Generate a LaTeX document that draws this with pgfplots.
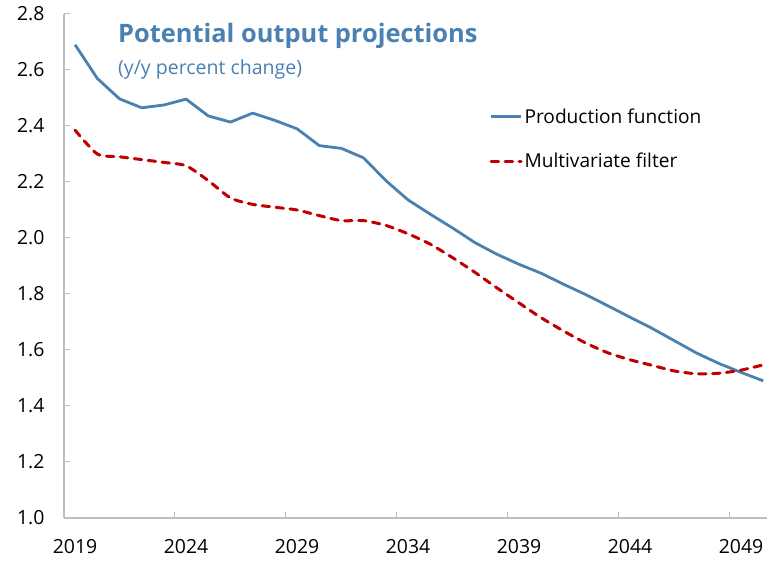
\documentclass[border=0pt]{standalone}
\usepackage{pgfplots}
\pgfplotsset{compat=1.18}
\usepackage{fontspec}
\setmainfont{Open Sans}
\definecolor{pfblue}{RGB}{74,128,178}
\definecolor{mvred}{RGB}{192,0,0}
\definecolor{axgray}{RGB}{190,190,190}
\pgfplotstableread{
year pf mv
2019 2.690 2.385
2020 2.570 2.300
2021 2.497 2.290
2022 2.465 2.280
2023 2.475 2.270
2024 2.496 2.258
2025 2.436 2.205
2026 2.414 2.143
2027 2.446 2.120
2028 2.420 2.110
2029 2.390 2.100
2030 2.330 2.080
2031 2.320 2.062
2032 2.286 2.062
2033 2.205 2.045
2034 2.136 2.015
2035 2.085 1.978
2036 2.036 1.930
2037 1.984 1.878
2038 1.942 1.822
2039 1.906 1.768
2040 1.874 1.715
2041 1.835 1.668
2042 1.798 1.625
2043 1.758 1.590
2044 1.717 1.565
2045 1.677 1.545
2046 1.633 1.525
2047 1.589 1.515
2048 1.552 1.517
2049 1.520 1.528
2050 1.490 1.547
}\datatable
\begin{document}
\begin{tikzpicture}[x=1bp,y=1bp]
\begin{axis}[
  at={(64bp,45bp)}, anchor=south west,
  scale only axis, width=703bp, height=504bp,
  xmin=2018.5, xmax=2050.17,
  ymin=1.0, ymax=2.8,
  axis x line=bottom, axis y line=left,
  axis line style={axgray, line width=1.2bp, -},
  xtick={2019,2024,...,2049},
  minor xtick={2023.5,2028.5,...,2048.5},
  major x tick style={draw=none},
  minor x tick style={axgray, line width=1bp},
  minor tick length=6bp,
  ytick={1.0,1.2,...,2.81},
  y tick style={axgray, line width=1bp},
  major tick length=6bp,
  tick align=inside,
  yticklabel style={/pgf/number format/fixed, /pgf/number format/fixed zerofill, /pgf/number format/precision=1},
  /pgf/number format/assume math mode=true,
  xticklabel style={/pgf/number format/1000 sep={}},
  tick label style={font=\fontsize{19.5}{22}\selectfont, text=black},
  xticklabel style={yshift=-18bp},
  yticklabel style={xshift=-16bp},
  legend style={at={(rel axis cs:0.605,0.817)}, anchor=north west, draw=none, fill=none,
    font=\fontsize{19.2}{22}\selectfont, row sep=24.5bp, inner sep=0pt, cells={anchor=west}},
  legend image code/.code={\draw[#1] (0bp,0bp) -- (30bp,0bp);},
  clip=false,
]
\addplot[pfblue, line width=2.8bp, line join=round] table[x=year,y=pf]{\datatable};
\addlegendentry{Production function}
\addplot[mvred, line width=3bp, smooth, tension=0.4, line cap=round, dash pattern=on 7.5bp off 6.5bp] table[x=year,y=mv]{\datatable};
\addlegendentry{Multivariate filter}
\end{axis}
\node[anchor=west, text=pfblue, font=\fontsize{25.5}{30}\selectfont\bfseries, inner sep=0pt] at (118bp,527.5bp) {Potential output projections};
\node[anchor=west, text=pfblue, font=\fontsize{19.6}{23}\selectfont, inner sep=0pt] at (118bp,494bp) {(y/y percent change)};
\pgfresetboundingbox
\path[use as bounding box] (0bp,0bp) rectangle (767bp,563bp);
\end{tikzpicture}
\end{document}
